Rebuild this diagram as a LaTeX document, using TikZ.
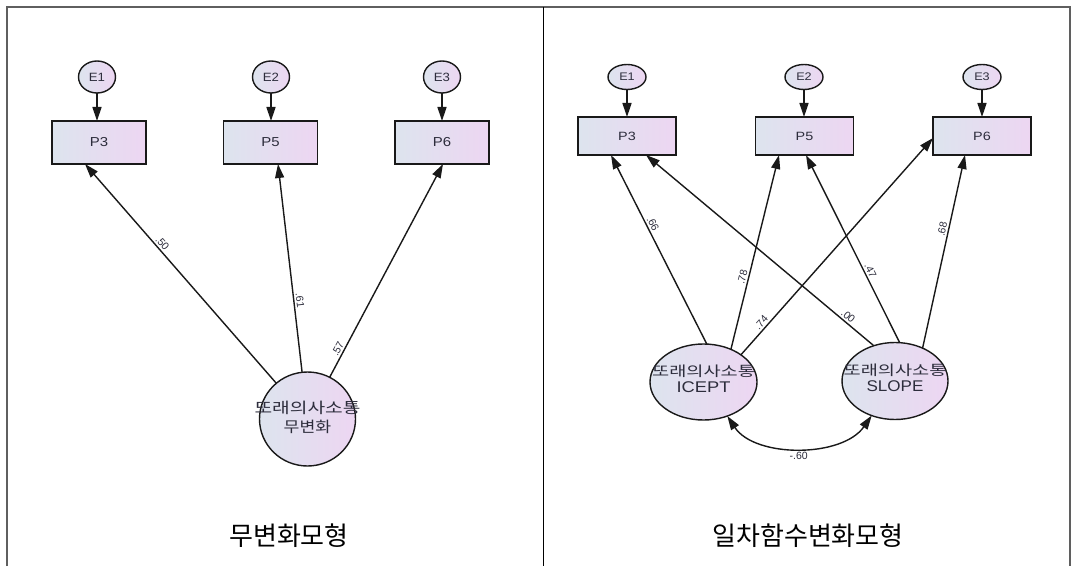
\documentclass[tikz,border=0pt]{standalone}
\usepackage{fontspec}
\usepackage{graphicx}
\setmainfont{Liberation Sans}
\newfontfamily\kr{Noto Sans CJK KR}
\usetikzlibrary{arrows.meta,shapes.geometric}

\definecolor{fillL}{RGB}{221,228,238}
\definecolor{fillR}{RGB}{237,214,242}
\definecolor{ink}{RGB}{25,25,25}
\definecolor{txt}{RGB}{45,45,60}
\definecolor{framec}{RGB}{95,95,95}

% horizontally widened text, as the path diagram software prints it
\newcommand{\wx}[2]{\scalebox{#1}[1]{#2}}

\tikzset{
  shade2/.style={left color=fillL, right color=fillR},
  conn/.style={draw=ink, line width=1.4pt, -{Triangle[length=14pt,width=9pt]}},
  coef/.style={font=\fontsize{10.5}{10.5}\selectfont, text=txt, sloped, above=2.5pt},
  errL/.style={ellipse, draw=ink, line width=1.4pt, shade2, minimum width=37pt, minimum height=32pt, font=\fontsize{12}{12}\selectfont, text=txt},
  errR/.style={ellipse, draw=ink, line width=1.4pt, shade2, minimum width=38pt, minimum height=25pt, font=\fontsize{11}{11}\selectfont, text=txt},
  boxL/.style={rectangle, draw=ink, line width=1.4pt, shade2, minimum width=94pt, minimum height=43pt, font=\fontsize{13}{13}\selectfont, text=txt},
  boxR/.style={rectangle, draw=ink, line width=1.4pt, shade2, minimum width=98pt, minimum height=38pt, font=\fontsize{12}{12}\selectfont, text=txt},
  latent/.style={ellipse, draw=ink, line width=1.4pt, shade2, inner sep=0pt},
  latlabel/.style={align=center, text=txt},
  caption/.style={font=\kr\fontsize{26}{26}\selectfont, text=black},
}

\begin{document}
\begin{tikzpicture}[x=1pt, y=1pt, every node/.style={inner sep=0pt, outer sep=0pt}]
\useasboundingbox (0,0) rectangle (1075,566);
\fill[white] (0,0) rectangle (1075,566);

% table frame
\draw[framec, line width=1.3pt] (7,0) -- (7,559) -- (1070,559) -- (1070,0);
\draw[black, line width=0.8pt] (543,559) -- (543,0);

% ---------- no-change model ----------
\node[errL] (le1) at (97,489) {\wx{1.1}{E1}};
\node[errL] (le2) at (271,489) {\wx{1.1}{E2}};
\node[errL] (le3) at (442,489) {\wx{1.1}{E3}};

\node[boxL] (lp3) at (99,423.5) {\wx{1.15}{P3}};
\node[boxL] (lp5) at (270.5,423.5) {\wx{1.15}{P5}};
\node[boxL] (lp6) at (442,423.5) {\wx{1.15}{P6}};

\node[latent, minimum width=96pt, minimum height=94pt] (lc) at (307.5,147) {};
\node[latlabel, font=\fontsize{15}{19}\selectfont] (lct) at ([yshift=1.5pt]lc.center)
  {{\kr\wx{1.28}{또래의사소통}}\\{\kr\wx{1.15}{무변화}}};

\draw[conn] (le1.south) -- (le1.south |- lp3.north);
\draw[conn] (le2.south) -- (le2.south |- lp5.north);
\draw[conn] (le3.south) -- (le3.south |- lp6.north);

\draw[conn] (lc) -- ([xshift=-14pt]lp3.south) node[coef, pos=0.62] {.50};
\draw[conn] (lc) -- ([xshift=7.5pt]lp5.south) node[coef, pos=0.34] {.61};
\draw[conn] (lc) -- ([xshift=1pt]lp6.south) node[coef, pos=0.12] {.57};

\node[caption] (cap1) at (289,30) {무변화모형};

% ---------- linear change model ----------
\node[errR] (re1) at (627,489) {\wx{1.15}{E1}};
\node[errR] (re2) at (804,489) {\wx{1.15}{E2}};
\node[errR] (re3) at (982,489) {\wx{1.15}{E3}};

\node[boxR] (rp3) at (627,430) {\wx{1.2}{P3}};
\node[boxR] (rp5) at (804.5,430) {\wx{1.2}{P5}};
\node[boxR] (rp6) at (982,430) {\wx{1.2}{P6}};

\node[latent, minimum width=107pt, minimum height=76pt] (ric) at (703.5,184) {};
\node[latlabel, font=\fontsize{14}{15.5}\selectfont] (rict) at ([yshift=3pt]ric.center)
  {{\kr\wx{1.33}{또래의사소통}}\\{\fontsize{15.5}{15.5}\selectfont\wx{1.18}{ICEPT}}};
\node[latent, minimum width=106pt, minimum height=77pt] (rsl) at (895,185) {};
\node[latlabel, font=\fontsize{14}{15.5}\selectfont] (rslt) at ([yshift=3pt]rsl.center)
  {{\kr\wx{1.33}{또래의사소통}}\\{\fontsize{15.5}{15.5}\selectfont\wx{1.1}{SLOPE}}};

\draw[conn] (re1.south) -- (re1.south |- rp3.north);
\draw[conn] (re2.south) -- (re2.south |- rp5.north);
\draw[conn] (re3.south) -- (re3.south |- rp6.north);

\draw[conn] (ric.85) -- ([xshift=-16pt]rp3.south) node[coef, pos=0.62] {.66};
\draw[conn] (ric.50) -- ([xshift=-25.5pt]rp5.south) node[coef, pos=0.365] {.78};
\draw[conn] (ric.36) -- ([yshift=-2pt]rp6.west) node[coef, pos=0.13] {.74};
\draw[conn] (rsl.121) -- ([xshift=19pt]rp3.south) node[coef, pos=0.13] {.00};
\draw[conn] (rsl.83) -- ([xshift=1.5pt]rp5.south) node[coef, pos=0.37] {.47};
\draw[conn] (rsl.50) -- ([xshift=-17pt]rp6.south) node[coef, pos=0.61] {.68};

% covariance between intercept and slope
\draw[draw=ink, line width=1.4pt, {Triangle[length=14pt,width=9pt]}-{Triangle[length=14pt,width=9pt]}]
  (ric.-55) .. controls (755,108) and (842,108) .. (rsl.-124)
  node[pos=0.5, below=5pt, font=\fontsize{10.5}{10.5}\selectfont, text=txt] {-.60};

\node[caption] (cap2) at (808,30) {일차함수변화모형};
\end{tikzpicture}
\end{document}
